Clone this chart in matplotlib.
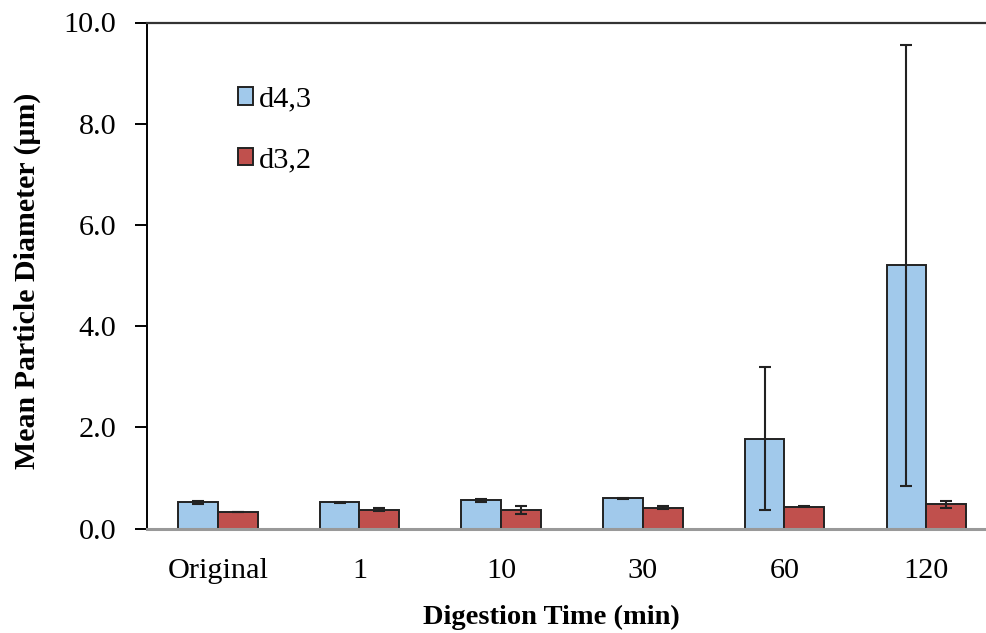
import numpy as np
import matplotlib.pyplot as plt

# Mean particle diameter vs digestion time
times = ["Original", "1", "10", "30", "60", "120"]
d43 = [0.52, 0.52, 0.56, 0.60, 1.78, 5.20]
d43_err = [0.03, 0.01, 0.03, 0.01, 1.42, 4.35]
d32 = [0.33, 0.37, 0.37, 0.41, 0.435, 0.485]
d32_err = [0.005, 0.03, 0.07, 0.03, 0.01, 0.07]

plt.rcParams["font.family"] = ["Liberation Serif", "DejaVu Serif"]

fig = plt.figure(figsize=(9.86, 6.33), dpi=100)
ax = fig.add_axes([147 / 986, 1 - 528.7 / 633, 850 / 986, (528.7 - 22.5) / 633])

x = np.arange(len(times))
w = 0.28
err_kw = dict(ecolor="#222222", elinewidth=1.5, capsize=4.5, capthick=1.5)
ax.bar(x - w / 2, d43, w, yerr=d43_err, color="#A1C9EB", edgecolor="#222222",
       linewidth=1.4, label="d4,3", error_kw=err_kw, zorder=2)
ax.bar(x + w / 2, d32, w, yerr=d32_err, color="#C0504D", edgecolor="#222222",
       linewidth=1.4, label="d3,2", error_kw=err_kw, zorder=2)

ax.set_xlim(-0.5, 5.5)
ax.set_ylim(0, 10)
ax.set_yticks(np.arange(0, 10.1, 2))
ax.set_yticklabels([f"{v:.1f}" for v in np.arange(0, 10.1, 2)])
ax.set_xticks(x)
ax.set_xticklabels(times)
ax.tick_params(axis="x", length=0, pad=21, labelsize=21.8)
ax.tick_params(axis="y", length=9, width=1.4, direction="out", pad=13, labelsize=21.8)

ax.spines["right"].set_visible(False)
ax.spines["left"].set_linewidth(1.4)
ax.spines["top"].set_color("#333333")
ax.spines["top"].set_linewidth(1.6)
ax.spines["bottom"].set_color("#999999")
ax.spines["bottom"].set_linewidth(2.2)

ax.set_xlabel("Digestion Time (min)", fontsize=20.5, fontweight="bold")
ax.set_ylabel("Mean Particle Diameter (\u03bcm)", fontsize=21.5, fontweight="bold")
ax.xaxis.set_label_coords(0.476, -0.15)
ax.yaxis.set_label_coords(-0.125, 0.49)

leg = ax.legend(loc="upper left", bbox_to_anchor=(0.093, 0.897), frameon=False,
                fontsize=21.8, handlelength=0.5, handleheight=0.5,
                handletextpad=0.2, labelspacing=1.15, borderaxespad=0)

fig.savefig("out.png", dpi=100)
